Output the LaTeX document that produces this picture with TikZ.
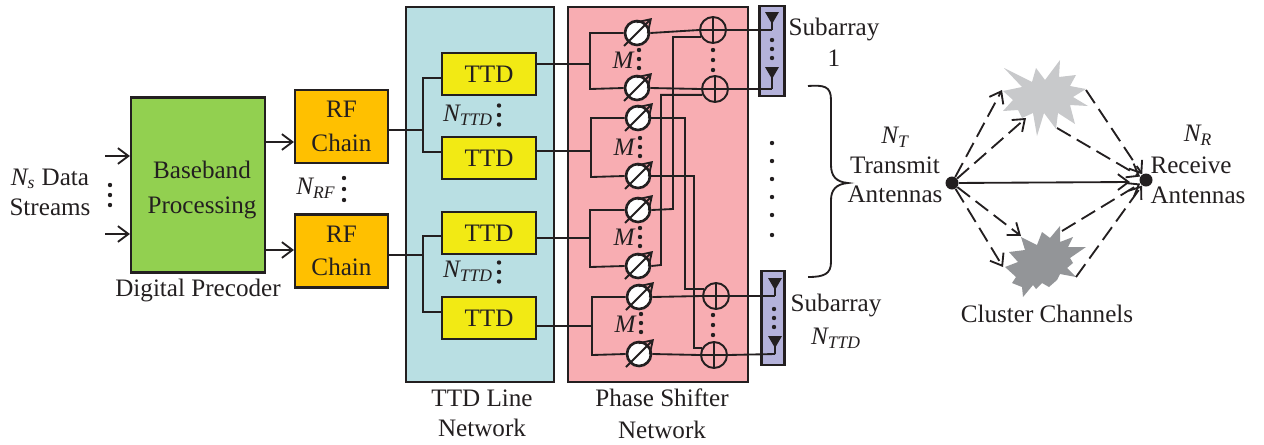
\documentclass[tikz,border=0pt]{standalone}
\usepackage{fontspec}
\setmainfont{Liberation Serif}
\usetikzlibrary{arrows.meta}
\definecolor{ttdblue}{HTML}{B9DFE3}
\definecolor{shiftpink}{HTML}{F8ADB2}
\definecolor{procgreen}{HTML}{92D050}
\definecolor{rforange}{HTML}{FFC000}
\definecolor{ttdyellow}{HTML}{F2EA14}
\definecolor{antpurple}{HTML}{B4B2DA}
\definecolor{inkdark}{HTML}{231F20}
\definecolor{clusterlight}{HTML}{C8C9CB}
\definecolor{clusterdark}{HTML}{939598}
\tikzset{
	wire/.style={line width=1.05pt, color=inkdark},
	panel/.style={draw=inkdark, line width=1.2pt, inner sep=0pt},
	label/.style={font=\fontsize{14.3}{17}\selectfont, text=inkdark, align=center, inner sep=0pt},
	ttdbox/.style={panel, fill=ttdyellow, minimum width=1.88cm, minimum height=0.84cm, label},
	rfbox/.style={panel, fill=rforange, minimum width=1.86cm, minimum height=1.46cm, label},
	shifter/.style={circle, draw=inkdark, line width=1.5pt, fill=white, minimum size=0.48cm, inner sep=0pt},
	adder/.style={circle, draw=inkdark, line width=1.1pt, minimum size=0.52cm, inner sep=0pt,
		path picture={\draw[line width=0.9pt] (path picture bounding box.north) -- (path picture bounding box.south)
			(path picture bounding box.west) -- (path picture bounding box.east);}},
	ray/.style={wire, -{Straight Barb[length=6pt,width=9pt]}},
	dashray/.style={ray, dash pattern=on 9pt off 4pt},
	tipdot/.style={circle, fill=inkdark, minimum size=0.26cm, inner sep=0pt}
}
% three stacked dots
\newcommand{\threedots}[3]{
	\foreach \k in {-1,0,1}
		\fill[inkdark] (#1,#2+\k*#3) circle [radius=2.2];
}
% shifter node with its slanted arrow
\newcommand{\phaseshift}[3]{
	\node[shifter] (#1) at (#2,#3) {};
	\draw[wire, -{Straight Barb[length=7pt,width=9pt]}] ([shift={(-13,13)}]#1.center) -- ([shift={(15,-15)}]#1.center);
}
% antenna element, feed point at the named coordinate
\newcommand{\antenna}[4]{
	\coordinate (#1) at (#2,#3);
	\fill[inkdark] (#2-7,#4) -- (#2+7,#4) -- (#2,#4+12) -- cycle;
	\draw[wire] (#2,#4+8) -- (#1);
}
\begin{document}
\begin{tikzpicture}[x=0.02cm, y=-0.02cm]
	\useasboundingbox (0,0) rectangle (1264,444);

	% backing panels
	\node[panel, fill=ttdblue, minimum width=2.96cm, minimum height=7.5cm] (ttdnet) at (480,194.5) {};
	\node[panel, fill=shiftpink, minimum width=3.6cm, minimum height=7.5cm] (psnet) at (658,194.5) {};
	\node[panel, fill=antpurple, minimum width=0.5cm, minimum height=1.8cm] (sub1) at (772,51) {};
	\node[panel, fill=antpurple, minimum width=0.46cm, minimum height=1.88cm] (sub2) at (773,318) {};

	% precoder side
	\node[panel, fill=procgreen, minimum width=2.68cm, minimum height=3.5cm] (proc) at (198,185) {};
	\node[label] (procl) at (202,190) {Baseband\\[3pt]Processing};
	\node[rfbox] (rf1) at (341.5,126.5) {RF\\[2pt]Chain};
	\node[rfbox] (rf2) at (341.5,251) {RF\\[2pt]Chain};
	\coordinate (in1) at (105,156);
	\coordinate (in2) at (105,234);
	\draw[ray] (in1) -- (in1 -| proc.west);
	\draw[ray] (in2) -- (in2 -| proc.west);
	\draw[ray] (proc.east |- 0,142) -- (rf1.west |- 0,142);
	\draw[ray] (proc.east |- 0,250) -- (rf2.west |- 0,250);

	% TTD boxes
	\node[ttdbox] (ttd1) at (489,74) {TTD};
	\node[ttdbox] (ttd2) at (489,158) {TTD};
	\node[ttdbox] (ttd3) at (489,233) {TTD};
	\node[ttdbox] (ttd4) at (489,318) {TTD};
	\draw[wire] (rf1.east |- 0,130) -- (423,130);
	\draw[wire] (ttd1.west |- 0,78) -| (423,152) -- (ttd2.west |- 0,152);
	\draw[wire] (rf2.east |- 0,255) -- (423,255);
	\draw[wire] (ttd3.west |- 0,236) -| (423,312) -- (ttd4.west |- 0,312);

	% phase shifters
	\phaseshift{ps1}{637}{33}
	\phaseshift{ps2}{637}{88}
	\phaseshift{ps3}{638}{118}
	\phaseshift{ps4}{638}{176}
	\phaseshift{ps5}{638}{210}
	\phaseshift{ps6}{638}{266}
	\phaseshift{ps7}{639}{297}
	\phaseshift{ps8}{639}{354}
	\draw[wire] (ttd1.east |- 0,64) -- (590,64);
	\draw[wire] (ps1.west) -| (590,89) -- (ps2.west);
	\draw[wire] (ttd2.east |- 0,151) -- (591,151);
	\draw[wire] (ps3.west) -| (591,177) -- (ps4.west);
	\draw[wire] (ttd3.east |- 0,238) -- (590,238);
	\draw[wire] (ps5.west) -| (590,267) -- (ps6.west);
	\draw[wire] (ttd4.east |- 0,326) -- (592,326);
	\draw[wire] (ps7.west) -| (592,355) -- (ps8.west);

	% adders and antennas
	\node[adder] (ad1) at (713,30) {};
	\node[adder] (ad2) at (715,89) {};
	\node[adder] (ad3) at (716,296) {};
	\node[adder] (ad4) at (714,355) {};
	\antenna{ant1}{772}{30}{12}
	\antenna{ant2}{772}{89}{67}
	\antenna{ant3}{775}{296}{278}
	\antenna{ant4}{775}{354}{336}
	\draw[wire] (ps1.east) -- (ad1.west);
	\draw[wire] (ad1.east) -- (ant1);
	\draw[wire] (ps2.east) -- (ad2.west);
	\draw[wire] (ad2.east) -- (ant2);
	\draw[wire] (ps7.east) -- (ad3.west);
	\draw[wire] (ad3.east) -- (ant3);
	\draw[wire] (ps8.east) -- (ad4.west);
	\draw[wire] (ad4.east) -- (ant4);

	% crossing feeds
	\draw[wire] (ps5.east) -- (673,209) |- (ad1.210);
	\draw[wire] (ps6.east) -- (661,265) |- (ad2.205);
	\draw[wire] (ps3.east) -- (685,118) |- (ad3.150);
	\draw[wire] (ps4.east) -- (694,176) |- (ad4.150);

	% dots
	\threedots{110}{195}{10}
	\threedots{344}{189}{11}
	\threedots{499}{115}{9.5}
	\threedots{499}{272}{9.5}
	\threedots{639}{59}{9}
	\threedots{640}{147}{9}
	\threedots{640}{237}{9}
	\threedots{641}{323}{9}
	\threedots{713}{60}{10}
	\threedots{713}{325}{10}
	\threedots{772}{49}{9}
	\threedots{774}{318}{9}
	\foreach \k in {143,161,179,197,215,235}
		\fill[inkdark] (772,\k) circle [radius=2.2];

	% brace
	\draw[wire] (808,86) .. controls (824,85) and (831,86) .. (831,100) -- (831,165)
		.. controls (831,176) and (836,182) .. (848,183) .. controls (836,184) and (831,190) .. (831,200)
		-- (831,262) .. controls (831,274) and (824,277) .. (808,277);

	% channel
	\fill[clusterlight] plot coordinates {(1004,68) (1032,82) (1036,68) (1045,80) (1060,60) (1059,77) (1076,75) (1070,86) (1086,89) (1073,97) (1088,106) (1070,105) (1075,124) (1058,113) (1056,129) (1044,113) (1037,136) (1033,113) (1022,118) (1018,110) (1003,111) (1013,100) (1003,91) (1022,87)} -- cycle;
	\fill[clusterdark] plot coordinates {(1021,237) (1037,245) (1042,232) (1050,238) (1060,226) (1060,242) (1073,237) (1068,247) (1086,247) (1070,258) (1073,263) (1067,268) (1076,277) (1060,274) (1057,280) (1049,287) (1042,283) (1036,289) (1033,285) (1023,297) (1022,287) (1012,283) (1016,277) (1005,267) (1018,262) (1009,252) (1025,250)} -- cycle;
	\node[tipdot] (src) at (952,183) {};
	\node[tipdot] (snk) at (1146,180) {};
	\coordinate (up1) at (1002,90);
	\coordinate (up2) at (1026,118);
	\coordinate (low1) at (1021,236);
	\coordinate (low2) at (1003,267);
	\coordinate (upout1) at (1086,90);
	\coordinate (upout2) at (1057,128);
	\coordinate (lowout1) at (1062,231);
	\coordinate (lowout2) at (1076,277);
	\coordinate (direct) at (1130,182);
	\draw[dashray] (src) -- (up1);
	\draw[dashray] (src) -- (up2);
	\draw[dashray] (src) -- (low1);
	\draw[dashray] (src) -- (low2);
	\draw[dashray] (upout1) -- (snk);
	\draw[dashray] (upout2) -- (snk);
	\draw[dashray] (lowout1) -- (snk);
	\draw[dashray] (lowout2) -- (snk);
	\draw[ray] (src) -- (direct);

	% labels
	\node[label] (nsl) at (50,192) {$\mathit{N_s}$ Data\\Streams};
	\node[label] (prl) at (198,290) {Digital Precoder};
	\node[label] (nrf) at (316,188) {$\mathit{N_{RF}}$};
	\node[label] (nt1) at (468,115) {$\mathit{N_{TTD}}$};
	\node[label] (nt2) at (468,271) {$\mathit{N_{TTD}}$};
	\node[label] (m1) at (623,60) {$\mathit{M}$};
	\node[label] (m2) at (624,147) {$\mathit{M}$};
	\node[label] (m3) at (624,237) {$\mathit{M}$};
	\node[label] (m4) at (625,324) {$\mathit{M}$};
	\node[label] (tln) at (482,413) {TTD Line\\Network};
	\node[label] (psn) at (662,414) {Phase Shifter\\[1pt]Network};
	\node[label] (sa1) at (834,42) {Subarray\\[0.6pt]1};
	\node[label] (sa2) at (836,321) {Subarray\\[1.7pt]$\mathit{N_{TTD}}$};
	\node[label] (txl) at (895,165) {$\mathit{N_T}$\\Transmit\\Antennas};
	\node[label] (rxn) at (1198,135) {$\mathit{N_R}$};
	\node[label] (rxr) at (1191,165) {Receive};
	\node[label] (rxa) at (1198,195) {Antennas};
	\node[label] (ccl) at (1047,314) {Cluster Channels};
\end{tikzpicture}
\end{document}
